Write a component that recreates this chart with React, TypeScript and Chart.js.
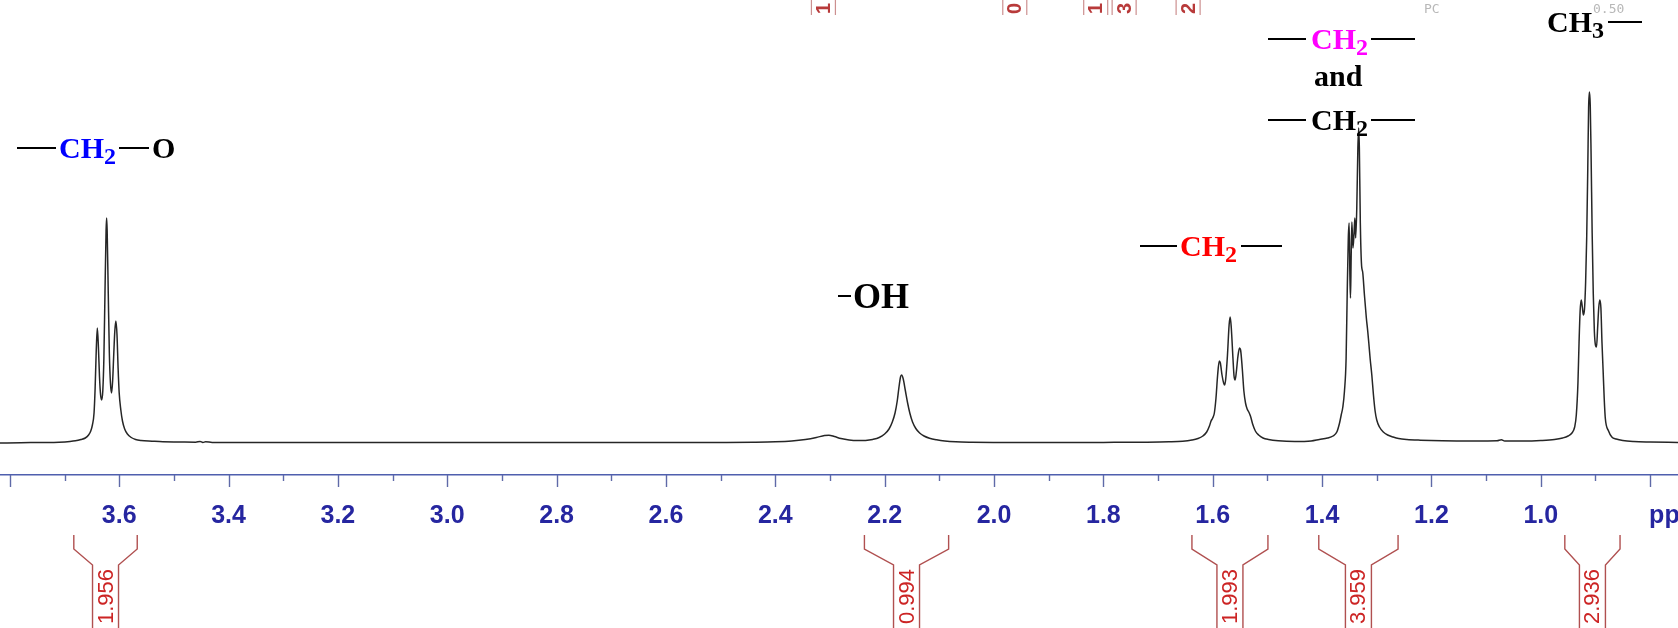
import React, { useEffect, useRef } from "react";
import { Chart, registerables } from "chart.js";

Chart.register(...registerables);

const W = 1678;
const H = 628;

// ---- spectrum (chemical shift in ppm, intensity) ----
const ppm: number[] = [
  3.818, 3.78, 3.74, 3.71, 3.69, 3.68, 3.67, 3.662, 3.656, 3.652, 3.649, 3.646, 3.644, 3.642, 3.64, 3.638,
  3.636, 3.634, 3.632, 3.63, 3.628, 3.626, 3.624, 3.623, 3.622, 3.62, 3.618, 3.616, 3.614, 3.612, 3.61,
  3.608, 3.606, 3.604, 3.602, 3.6, 3.597, 3.594, 3.59, 3.585, 3.578, 3.57, 3.56, 3.54, 3.52, 3.49, 3.46,
  3.452, 3.447, 3.442, 3.43, 3.35, 3.2, 3.05, 2.9, 2.75, 2.6, 2.5, 2.44, 2.4, 2.37, 2.345, 2.325, 2.31,
  2.302, 2.292, 2.28, 2.265, 2.25, 2.235, 2.222, 2.21, 2.2, 2.192, 2.186, 2.181, 2.177, 2.174, 2.171,
  2.169, 2.166, 2.162, 2.158, 2.154, 2.149, 2.143, 2.136, 2.128, 2.118, 2.105, 2.09, 2.07, 2.04, 2.0,
  1.9, 1.8, 1.72, 1.68, 1.655, 1.638, 1.627, 1.618, 1.611, 1.606, 1.603, 1.6, 1.597, 1.594, 1.591,
  1.588, 1.586, 1.583, 1.58, 1.578, 1.576, 1.573, 1.57, 1.568, 1.566, 1.563, 1.561, 1.559, 1.557,
  1.554, 1.551, 1.549, 1.546, 1.543, 1.54, 1.537, 1.534, 1.531, 1.527, 1.522, 1.516, 1.508, 1.498,
  1.48, 1.45, 1.42, 1.405, 1.39, 1.38, 1.373, 1.368, 1.365, 1.362, 1.359, 1.356, 1.354, 1.352, 1.3505,
  1.349, 1.348, 1.3468, 1.3455, 1.3435, 1.3415, 1.34, 1.3385, 1.3365, 1.3345, 1.333, 1.3318, 1.33,
  1.328, 1.3255, 1.3225, 1.319, 1.3165, 1.3145, 1.312, 1.309, 1.306, 1.303, 1.3, 1.295, 1.288, 1.28,
  1.27, 1.26, 1.245, 1.22, 1.18, 1.12, 1.08, 1.072, 1.066, 1.03, 1.0, 0.975, 0.96, 0.95, 0.943, 0.938,
  0.935, 0.932, 0.93, 0.928, 0.926, 0.924, 0.922, 0.92, 0.918, 0.916, 0.914, 0.9125, 0.911, 0.9095,
  0.908, 0.906, 0.904, 0.902, 0.9, 0.898, 0.896, 0.894, 0.892, 0.89, 0.888, 0.886, 0.884, 0.882,
  0.876, 0.87, 0.862, 0.85, 0.83, 0.8, 0.749,
];
const intensity: number[] = [
  0, 0.3, 0.5, 0.8, 1.5, 2.2, 3.5, 5, 8, 12, 18, 30, 55, 92, 115, 96,
  66, 48, 43, 52, 85, 150, 212, 225, 212, 150, 90, 60, 50, 62, 88,
  112, 122, 108, 75, 50, 33, 22, 14, 9, 5.5, 3.5, 2.5, 1.8, 1.2, 1, 0.8,
  1.6, 0.5, 1.2, 0.6, 0.4, 0.5, 0.4, 0.5, 0.4, 0.5, 0.6, 0.8, 1.2, 2, 3.5, 5.5, 7.5,
  7.8, 6.5, 4.5, 3, 2.4, 2.6, 3.6, 5.5, 9, 14, 21, 30, 42, 55, 66,
  68, 64, 52, 40, 30, 21, 14.5, 10, 7, 4.8, 3.2, 2, 1.2, 0.8, 0.6,
  0.5, 0.6, 0.8, 1.2, 1.8, 3, 4.5, 7, 11, 17, 22, 25, 30, 45, 68,
  82, 80, 68, 60, 58, 65, 88, 118, 126, 115, 85, 67, 63, 70,
  86, 95, 93, 75, 52, 40, 34, 31, 27, 19, 12, 8, 5, 3.5,
  2.2, 1.5, 2, 3.5, 5, 7, 11, 20, 28, 36, 52, 85, 150, 205, 220,
  165, 145, 185, 221, 195, 210, 225, 205, 235, 295, 315, 295, 220,
  180, 170, 148, 125, 112, 100, 84, 68, 48, 32, 23, 16, 11, 8,
  6, 4.5, 3.5, 2.8, 2.2, 2, 2.2, 3.2, 2, 2, 2.5, 3.5, 5, 7, 10, 16,
  28, 60, 100, 132, 143, 136, 128, 134, 160, 205, 275, 335, 351, 338,
  290, 210, 150, 112, 98, 96, 115, 135, 143, 135, 100, 73, 45, 25,
  12, 6, 4, 2.5, 1.5, 1, 0.5,
];

// ---- axis ----
const axisMin = 0.749;
const axisMax = 3.818;
const majorTicks: number[] = [0.8, 1.0, 1.2, 1.4, 1.6, 1.8, 2.0, 2.2, 2.4, 2.6, 2.8, 3.0, 3.2, 3.4, 3.6, 3.8];
const majorLabels: string[] = ["", "1.0", "1.2", "1.4", "1.6", "1.8", "2.0", "2.2", "2.4", "2.6", "2.8", "3.0", "3.2", "3.4", "3.6", ""];
const minorTicks: number[] = [0.9, 1.1, 1.3, 1.5, 1.7, 1.9, 2.1, 2.3, 2.5, 2.7, 2.9, 3.1, 3.3, 3.5, 3.7];
const unitLabel = "ppm";
const unitAt = 0.8;

// ---- integrals (below axis) ----
const integralFrom: number[] = [3.683, 2.237, 1.638, 1.406, 0.956];
const integralTo: number[] = [3.567, 2.083, 1.499, 1.261, 0.855];
const integralValues: string[] = ["1.956", "0.994", "1.993", "3.959", "2.936"];

// ---- clipped integral labels at the very top ----
const topLabelPpm: number[] = [2.312, 1.962, 1.814, 1.762, 1.645];
const topLabelText: string[] = ["1", "0", "1", "3", "2"];

const AXIS_COLOR = "#4f5fae";
const TICK_COLOR = "#5f6aa8";
const LABEL_COLOR = "#2626a0";
const INT_COLOR = "#cc2424";
const BRACKET_COLOR = "#b05050";

const overlayPlugin = {
  id: "nmrOverlay",
  afterDraw(chart: any) {
    const { ctx, chartArea } = chart;
    const xs = chart.scales.x;
    const axisY = chartArea.bottom;
    ctx.save();

    // tick marks
    ctx.strokeStyle = TICK_COLOR;
    ctx.lineWidth = 1.4;
    const drawTick = (v: number, len: number) => {
      const px = Math.round(xs.getPixelForValue(v)) + 0.5;
      ctx.beginPath();
      ctx.moveTo(px, axisY);
      ctx.lineTo(px, axisY + len);
      ctx.stroke();
    };
    majorTicks.forEach((v) => drawTick(v, 12));
    minorTicks.forEach((v) => drawTick(v, 6));

    // unit label
    ctx.fillStyle = LABEL_COLOR;
    ctx.font = "bold 25px 'Liberation Sans', Arial, sans-serif";
    ctx.textAlign = "left";
    ctx.textBaseline = "middle";
    ctx.fillText(unitLabel, xs.getPixelForValue(unitAt) - 1, 516);

    // integral brackets
    integralFrom.forEach((f, i) => {
      const x1 = xs.getPixelForValue(f);
      const x2 = xs.getPixelForValue(integralTo[i]);
      const c = (x1 + x2) / 2;
      ctx.strokeStyle = BRACKET_COLOR;
      ctx.lineWidth = 1.4;
      ctx.beginPath();
      ctx.moveTo(x1, 535);
      ctx.lineTo(x1, 549);
      ctx.lineTo(c - 13, 565);
      ctx.lineTo(c - 13, H);
      ctx.moveTo(x2, 535);
      ctx.lineTo(x2, 549);
      ctx.lineTo(c + 13, 565);
      ctx.lineTo(c + 13, H);
      ctx.stroke();
      ctx.save();
      ctx.translate(c + 1, 624);
      ctx.rotate(-Math.PI / 2);
      ctx.fillStyle = INT_COLOR;
      ctx.font = "22px 'Liberation Sans', Arial, sans-serif";
      ctx.textAlign = "left";
      ctx.textBaseline = "middle";
      ctx.fillText(integralValues[i], 0, 0);
      ctx.restore();
    });

    // clipped labels at the top edge
    topLabelPpm.forEach((p, i) => {
      const c = xs.getPixelForValue(p);
      ctx.strokeStyle = "rgba(170,70,70,0.6)";
      ctx.lineWidth = 1.2;
      ctx.beginPath();
      ctx.moveTo(c - 12, 0);
      ctx.lineTo(c - 12, 15);
      ctx.moveTo(c + 12, 0);
      ctx.lineTo(c + 12, 15);
      ctx.stroke();
      ctx.save();
      ctx.translate(c + 1, 14);
      ctx.rotate(-Math.PI / 2);
      ctx.fillStyle = "#b83a3a";
      ctx.font = "bold 20px 'Liberation Sans', Arial, sans-serif";
      ctx.textAlign = "left";
      ctx.textBaseline = "middle";
      ctx.fillText(topLabelText[i], 0, 0);
      ctx.restore();
    });

    // faint grey annotations
    ctx.fillStyle = "#b8b8b8";
    ctx.font = "13px 'DejaVu Sans Mono', monospace";
    ctx.textAlign = "left";
    ctx.textBaseline = "middle";
    ctx.fillText("PC", 1424, 10);
    ctx.fillText("0.50", 1593, 10);

    ctx.restore();
  },
};

type Seg =
  | { k: "line"; w: number }
  | { k: "gap"; w: number }
  | { k: "t"; s: string; c?: string }
  | { k: "sub"; s: string; c?: string };

function Chem({ left, lineY, segs, size = 30 }: { left: number; lineY: number; segs: Seg[]; size?: number }) {
  return (
    <div
      style={{
        position: "absolute",
        left,
        top: lineY - 0.5065 * size,
        fontFamily: "'Liberation Serif', 'Times New Roman', serif",
        fontWeight: "bold",
        fontSize: size,
        lineHeight: `${size}px`,
        whiteSpace: "nowrap",
        color: "#000",
      }}
    >
      {segs.map((s, i) => {
        if (s.k === "line")
          return (
            <span
              key={i}
              style={{ display: "inline-block", width: s.w, height: 2, background: "#000", verticalAlign: "0.3em" }}
            />
          );
        if (s.k === "gap") return <span key={i} style={{ display: "inline-block", width: s.w, height: 1 }} />;
        if (s.k === "sub")
          return (
            <span key={i} style={{ fontSize: "0.8em", verticalAlign: "-0.25em", color: s.c || "#000" }}>
              {s.s}
            </span>
          );
        return (
          <span key={i} style={{ color: s.c || "#000" }}>
            {s.s}
          </span>
        );
      })}
    </div>
  );
}

export default function App() {
  const ref = useRef<HTMLCanvasElement | null>(null);

  useEffect(() => {
    if (!ref.current) return;
    const points = ppm.map((p, i) => ({ x: p, y: intensity[i] }));
    const chart = new Chart(ref.current, {
      type: "line",
      data: {
        datasets: [
          {
            data: points,
            borderColor: "#262626",
            borderWidth: 1.5,
            pointRadius: 0,
            fill: false,
            cubicInterpolationMode: "monotone",
          },
        ],
      },
      options: {
        animation: false,
        responsive: false,
        maintainAspectRatio: false,
        devicePixelRatio: 1,
        layout: { padding: 0 },
        plugins: { legend: { display: false }, tooltip: { enabled: false }, title: { display: false } },
        scales: {
          x: {
            type: "linear",
            reverse: true,
            min: axisMin,
            max: axisMax,
            grid: { display: false, drawTicks: false },
            border: { display: true, color: AXIS_COLOR, width: 1.6 },
            afterFit: (scale: any) => {
              scale.height = H - 475;
              scale.paddingLeft = 0;
              scale.paddingRight = 0;
            },
            ticks: {
              stepSize: 0.2,
              includeBounds: false,
              autoSkip: false,
              maxRotation: 0,
              padding: 26,
              color: LABEL_COLOR,
              font: { family: "'Liberation Sans', Arial, sans-serif", size: 25, weight: "bold" },
              callback: (value: any) => {
                const v = Number(value);
                const i = majorTicks.findIndex((t) => Math.abs(t - v) < 1e-6);
                return i >= 0 ? majorLabels[i] : "";
              },
            },
          },
          y: {
            type: "linear",
            display: false,
            min: -32,
            max: 443,
          },
        },
      },
      plugins: [overlayPlugin],
    } as any);
    return () => chart.destroy();
  }, []);

  return (
    <div
      style={{
        position: "fixed",
        left: 0,
        top: 0,
        width: W,
        height: H,
        background: "#fff",
        overflow: "hidden",
      }}
    >
      <canvas ref={ref} width={W} height={H} style={{ position: "absolute", left: 0, top: 0, width: W, height: H }} />
      <Chem
        left={17}
        lineY={148}
        segs={[
          { k: "line", w: 39 },
          { k: "gap", w: 3 },
          { k: "t", s: "CH", c: "#0000ff" },
          { k: "sub", s: "2", c: "#0000ff" },
          { k: "gap", w: 3 },
          { k: "line", w: 30 },
          { k: "gap", w: 3 },
          { k: "t", s: "O" },
        ]}
      />
      <Chem
        left={838}
        lineY={296}
        size={36}
        segs={[
          { k: "line", w: 13 },
          { k: "gap", w: 2 },
          { k: "t", s: "OH" },
        ]}
      />
      <Chem
        left={1140}
        lineY={246}
        segs={[
          { k: "line", w: 37 },
          { k: "gap", w: 3 },
          { k: "t", s: "CH", c: "#ff0000" },
          { k: "sub", s: "2", c: "#ff0000" },
          { k: "gap", w: 4 },
          { k: "line", w: 41 },
        ]}
      />
      <Chem
        left={1268}
        lineY={39}
        segs={[
          { k: "line", w: 38 },
          { k: "gap", w: 5 },
          { k: "t", s: "CH", c: "#ff00ff" },
          { k: "sub", s: "2", c: "#ff00ff" },
          { k: "gap", w: 3 },
          { k: "line", w: 44 },
        ]}
      />
      <Chem left={1314} lineY={76} segs={[{ k: "t", s: "and" }]} />
      <Chem
        left={1268}
        lineY={120}
        segs={[
          { k: "line", w: 38 },
          { k: "gap", w: 5 },
          { k: "t", s: "CH" },
          { k: "sub", s: "2" },
          { k: "gap", w: 3 },
          { k: "line", w: 44 },
        ]}
      />
      <Chem
        left={1547}
        lineY={22}
        segs={[
          { k: "t", s: "CH" },
          { k: "sub", s: "3" },
          { k: "gap", w: 4 },
          { k: "line", w: 34 },
        ]}
      />
    </div>
  );
}
